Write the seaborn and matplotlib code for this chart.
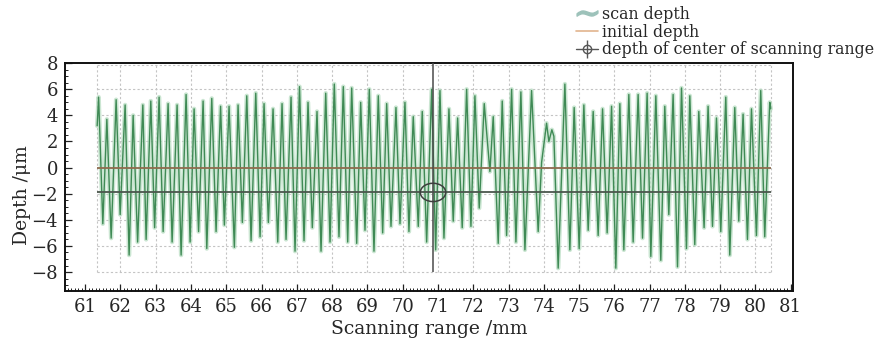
import numpy as np
import pandas as pd
import matplotlib
matplotlib.use("Agg")
import matplotlib.pyplot as plt
import seaborn as sns
from matplotlib.lines import Line2D
from matplotlib.patches import Ellipse
from matplotlib.ticker import MultipleLocator

# scan depth: peaks/troughs (mm, um)
scan_x = [61.340, 61.382, 61.501, 61.615, 61.737, 61.878, 61.992, 62.133, 62.246, 62.360,
          62.487, 62.635, 62.728, 62.861, 62.969, 63.096, 63.210, 63.351, 63.465, 63.606,
          63.720, 63.861, 63.975, 64.088, 64.215, 64.343, 64.448, 64.589, 64.711, 64.839,
          64.946, 65.079, 65.229, 65.334, 65.456, 65.581, 65.703, 65.836, 65.958, 66.071,
          66.193, 66.326, 66.459, 66.581, 66.694, 66.836, 66.949, 67.076, 67.204, 67.317,
          67.439, 67.572, 67.686, 67.819, 67.941, 68.062, 68.195, 68.317, 68.442, 68.555,
          68.697, 68.810, 68.932, 69.054, 69.187, 69.309, 69.433, 69.547, 69.669, 69.810,
          69.924, 70.065, 70.178, 70.300, 70.442, 70.555, 70.680, 70.822, 70.935, 71.057,
          71.170, 71.312, 71.433, 71.558, 71.688, 71.813, 71.935, 72.048, 72.170, 72.312,
          72.473, 72.567, 72.708, 72.822, 72.946, 73.088, 73.210, 73.351, 73.465, 73.654,
          73.841, 73.938, 74.079, 74.144, 74.229, 74.286, 74.408, 74.598, 74.739, 74.861,
          75.003, 75.136, 75.258, 75.400, 75.541, 75.666, 75.796, 75.921, 76.042, 76.156,
          76.269, 76.411, 76.533, 76.674, 76.799, 76.929, 77.034, 77.176, 77.317, 77.430,
          77.544, 77.666, 77.790, 77.904, 78.045, 78.139, 78.280, 78.394, 78.544, 78.657,
          78.782, 78.895, 79.017, 79.159, 79.272, 79.414, 79.527, 79.649, 79.773, 79.887,
          80.028, 80.150, 80.263, 80.405, 80.433]
scan_depth = [3.2, 5.4, -4.3, 3.7, -5.4, 5.2, -3.6, 4.8, -6.7, 4.0,
              -5.7, 4.8, -5.5, 5.1, -4.6, 5.4, -4.9, 4.9, -5.7, 4.8,
              -6.7, 5.6, -5.7, 4.5, -4.9, 5.1, -6.2, 5.3, -4.9, 4.7,
              -4.4, 4.7, -6.1, 4.8, -4.2, 5.5, -5.6, 5.7, -5.3, 4.9,
              -4.2, 4.5, -5.7, 4.9, -5.5, 5.4, -6.4, 6.2, -5.6, 5.0,
              -4.6, 4.3, -6.4, 5.7, -5.7, 6.4, -5.3, 6.2, -5.7, 6.1,
              -5.8, 5.0, -4.8, 6.0, -6.4, 5.5, -5.0, 4.9, -4.5, 4.6,
              -4.3, 5.0, -4.9, 3.9, -4.5, 4.3, -5.7, 6.0, -6.3, 5.9,
              -5.4, 4.5, -4.1, 3.8, -4.6, 6.0, -4.5, 5.5, -3.1, 4.9,
              -0.3, 3.9, -5.8, 5.1, -5.2, 6.0, -5.7, 5.8, -6.3, 5.9,
              -4.9, 0.4, 3.4, 2.0, 2.9, 2.4, -7.7, 6.4, -6.3, 4.6,
              -6.2, 4.8, -4.8, 4.3, -5.2, 4.5, -5.0, 4.7, -7.7, 4.9,
              -6.3, 5.6, -5.7, 5.6, -5.4, 5.7, -6.8, 5.5, -7.1, 4.7,
              -3.6, 5.6, -7.6, 6.1, -6.2, 5.5, -5.9, 4.3, -4.6, 4.7,
              -4.5, 3.8, -4.9, 5.4, -6.7, 4.6, -4.1, 4.1, -5.5, 4.5,
              -5.2, 5.9, -5.3, 5.0, 4.5]

initial_depth = 0.0
center_depth = -1.9
center_pos = 70.86

x_ticks = list(range(61, 82))
y_ticks = [-8, -6, -4, -2, 0, 2, 4, 6, 8]
grid_x = [61.34] + list(range(62, 81)) + [80.43]
grid_y = [7.85, 6, 4, 2, 0, -2, -4, -6, -8]

df = pd.DataFrame({"x": scan_x, "depth": scan_depth})

sns.set_theme(style="white")
plt.rcParams["font.family"] = ["DejaVu Serif"]
plt.rcParams["mathtext.fontset"] = "dejavuserif"

fig = plt.figure(figsize=(8.79, 3.47), dpi=100)
ax = fig.add_axes([0.074, 0.161, 0.828, 0.657])

# dotted grid of the inner plot, only over the scanned range
ax.hlines(grid_y, grid_x[0], grid_x[-1], colors="#c4c4c4", linestyles=(0, (2, 2)), lw=0.8, zorder=0)
ax.vlines(grid_x, grid_y[-1], grid_y[0], colors="#c4c4c4", linestyles=(0, (2, 2)), lw=0.8, zorder=0)

# scan depth with a soft glow
sns.lineplot(data=df, x="x", y="depth", ax=ax, color="#b5dcc0", lw=3.2, alpha=0.7,
             estimator=None, sort=False, legend=False, zorder=2)
sns.lineplot(data=df, x="x", y="depth", ax=ax, color="#3f8a55", lw=1.0,
             estimator=None, sort=False, legend=False, zorder=3)

ax.hlines(initial_depth, scan_x[0], scan_x[-1], color="#8f6c4e", lw=1.3, zorder=4)
ax.hlines(center_depth, scan_x[0], scan_x[-1], color="#4b574d", lw=1.3, zorder=4)
ax.vlines(center_pos, -8, 8, color="#4a4a4a", lw=1.1, zorder=5)
ax.add_patch(Ellipse((center_pos, center_depth), 0.72, 1.4, fill=False,
                     ec="#3e3e3e", lw=1.1, zorder=6))

ax.set_xlim(60.43, 81.06)
ax.set_ylim(-9.46, 8)
ax.set_xticks(x_ticks)
ax.set_yticks(y_ticks)
ax.xaxis.set_minor_locator(MultipleLocator(0.1))
ax.yaxis.set_minor_locator(MultipleLocator(0.5))
ax.tick_params(axis="both", which="both", direction="in", bottom=True, left=True,
               top=False, right=False, color="#222222", labelsize=13)
ax.tick_params(axis="both", which="major", length=5, width=0.9, pad=5)
ax.tick_params(axis="both", which="minor", length=2.5, width=0.7)
ax.set_yticklabels([f"{v}".replace("-", "\u2212") for v in y_ticks])

for s in ax.spines.values():
    s.set_color("#111111")
    s.set_linewidth(1.4)

ax.set_xlabel("Scanning range /mm", fontsize=13.5, labelpad=3)
ax.set_ylabel("Depth /\u03bcm", fontsize=13.5)
ax.yaxis.set_label_coords(-0.047, 0.42)

# legend above the plot
h_scan = Line2D([], [], ls="none", marker="$\\sim$", markersize=15, color="#9dc2ba")
h_init = Line2D([], [], ls="-", lw=1.2, color="#e2b48e")
h_line = Line2D([], [], ls="-", lw=1.0, color="#555555")
h_circ = Line2D([], [], ls="none", marker="o", markersize=6, mfc="none", mec="#555555", mew=1.0)
h_vert = Line2D([], [], ls="none", marker="|", markersize=13, color="#555555", mew=1.0)
fig.legend([h_scan, h_init, (h_line, h_circ, h_vert)],
           ["scan depth", "initial depth", "depth of center of scanning range"],
           loc="upper left", bbox_to_anchor=(0.653, 0.988), frameon=False,
           fontsize=11.4, handlelength=1.4, handletextpad=0.3, labelspacing=0.05,
           borderaxespad=0.0, borderpad=0.1)

fig.savefig("out.png", dpi=100)
